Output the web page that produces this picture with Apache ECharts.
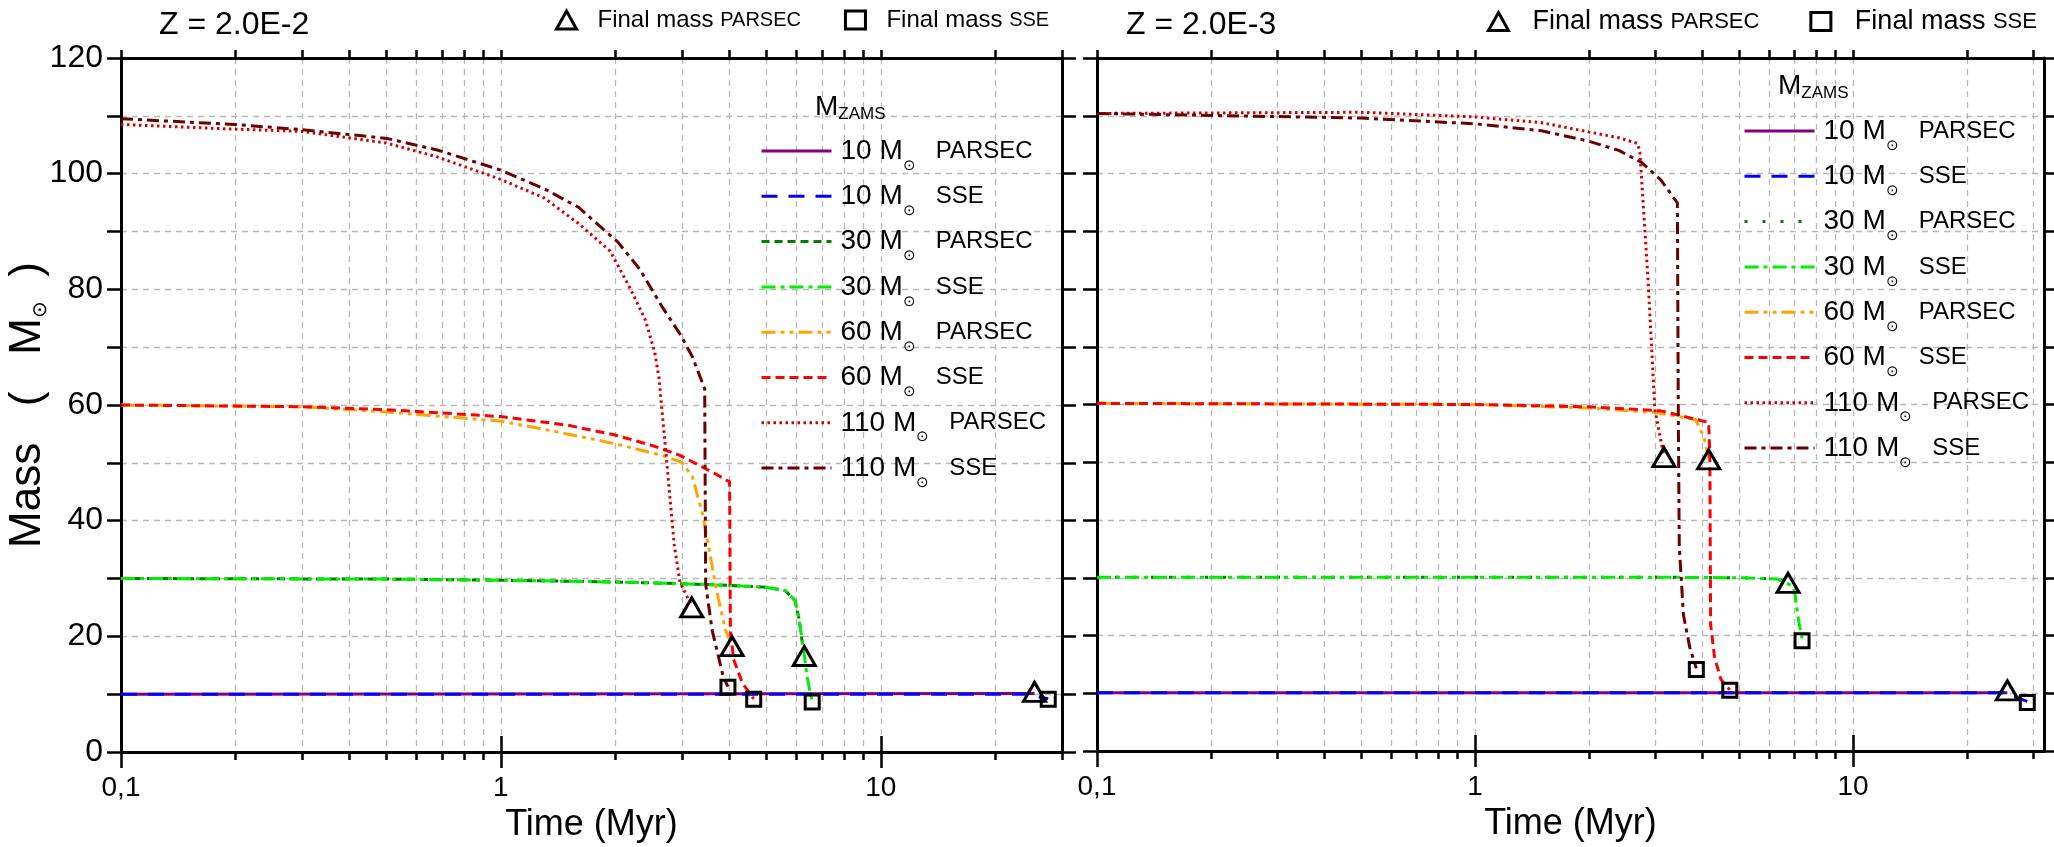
<!DOCTYPE html>
<html>
<head>
<meta charset="utf-8">
<script src="https://cdn.jsdelivr.net/npm/echarts@6/dist/echarts.min.js"></script>
<style>
  html, body { margin: 0; padding: 0; background: #fff; }
  #chart { width: 2054px; height: 847px; }
</style>
</head>
<body>
<div id="chart"></div>
<script>
// Mass evolution of massive stars: time in Myr, mass in solar masses.

// ---- Z = 2.0E-2 ----
const z1_10_parsec  = [[0.1, 10.0], [25.4, 10.1]];
const z1_10_sse     = [[0.1, 10.0], [24.0, 10.0], [27.6, 9.2]];
const z1_30_parsec  = [[0.1, 30.0], [0.5, 29.9], [1, 29.7], [2, 29.4], [3, 29.1], [4, 28.8], [5, 28.5], [5.6, 27.9], [5.95, 26.2], [6.1, 22.8], [6.25, 17.8]];
const z1_30_sse     = [[0.1, 30.0], [0.5, 29.9], [1, 29.7], [2, 29.4], [3, 29.1], [4, 28.8], [5, 28.5], [5.6, 27.9], [5.95, 26.2], [6.1, 22.8], [6.3, 16.5], [6.4, 13.0], [6.55, 9.6], [6.6, 8.8]];
const z1_60_parsec  = [[0.1, 60.0], [0.3, 59.7], [0.5, 58.8], [1, 57.2], [1.3, 55.8], [2, 53.3], [2.65, 51.3], [2.99, 50.1], [3.19, 47.7], [3.39, 41.3], [3.5, 36.6], [3.68, 28.5], [3.9, 21.1], [4.06, 18.5]];
const z1_60_sse     = [[0.1, 60.0], [0.3, 59.7], [0.5, 59.2], [1, 58.0], [1.5, 56.5], [2, 54.8], [2.5, 53.0], [2.96, 51.3], [3.67, 48.1], [4.0, 46.7], [4.02, 21.0], [4.1, 16.0], [4.33, 11.8], [4.63, 9.2]];
const z1_110_parsec = [[0.1, 108.5], [0.2, 107.7], [0.3, 107.3], [0.5, 105.3], [0.68, 102.9], [1, 99.0], [1.3, 95.8], [1.6, 91.4], [1.94, 86.6], [2.2, 79.9], [2.4, 74.7], [2.54, 69.2], [2.61, 64.5], [2.65, 59.6], [2.72, 51.7], [2.86, 35.8], [2.96, 29.4], [3.18, 25.2]];
const z1_110_sse    = [[0.1, 109.5], [0.2, 108.5], [0.3, 107.6], [0.5, 106.1], [0.68, 104.1], [1, 100.6], [1.3, 97.4], [1.6, 94.2], [2.03, 88.2], [2.32, 83.5], [2.65, 77.1], [2.96, 72.3], [3.19, 68.4], [3.44, 62.8], [3.46, 29.0], [3.6, 21.0], [3.85, 13.0], [3.96, 11.3]];
const z1_final_parsec = [[3.18, 25.0], [4.06, 18.3], [6.29, 16.6], [25.4, 10.4]];
const z1_final_sse    = [[3.96, 11.2], [4.63, 9.1], [6.6, 8.65], [27.6, 9.1]];

// ---- Z = 2.0E-3 ----
const z2_10_parsec  = [[0.1, 10.1], [25.6, 10.1]];
const z2_10_sse     = [[0.1, 10.1], [25.0, 10.1], [28.9, 8.6]];
const z2_30_parsec  = [[0.1, 30.1], [1, 30.1], [3, 30.1], [5, 30.0], [6.3, 29.8], [6.73, 29.3]];
const z2_30_sse     = [[0.1, 30.1], [1, 30.1], [3, 30.1], [5, 30.0], [6.3, 29.8], [6.9, 28.6], [7.0, 27.7], [7.18, 22.5], [7.33, 19.5]];
const z2_60_parsec  = [[0.1, 60.2], [1, 60.0], [2, 59.4], [3, 58.6], [3.83, 57.4], [4.03, 54.4], [4.15, 50.7]];
const z2_60_sse     = [[0.1, 60.2], [1, 60.0], [2, 59.6], [3.1, 58.9], [4.15, 56.9], [4.18, 51.3], [4.2, 21.9], [4.3, 16.3], [4.47, 12.4], [4.72, 10.6]];
const z2_110_parsec = [[0.1, 110.4], [0.5, 110.6], [1, 109.8], [1.5, 108.8], [2, 107.2], [2.4, 106.2], [2.69, 105.2], [2.73, 103.7], [2.87, 81.4], [2.99, 59.2], [3.12, 52.9], [3.16, 51.0]];
const z2_110_sse    = [[0.1, 110.4], [0.5, 109.6], [1, 108.6], [1.5, 107.4], [2, 105.6], [2.4, 104.0], [2.76, 101.9], [3.1, 98.9], [3.43, 94.9], [3.45, 57.6], [3.47, 35.4], [3.56, 23.5], [3.7, 17.9], [3.85, 14.3]];
const z2_final_parsec = [[3.16, 50.9], [4.15, 50.5], [6.73, 29.1], [25.6, 10.5]];
const z2_final_sse    = [[3.85, 14.1], [4.72, 10.5], [7.33, 19.1], [28.9, 8.4]];

// ---- axes ----
const xMinorTicks = [0.1, 0.2, 0.3, 0.4, 0.5, 0.6, 0.7, 0.8, 0.9, 1, 2, 3, 4, 5, 6, 7, 8, 9, 10, 20, 30];
const xMajorTicks = [0.1, 1, 10];
const yMin = 0, yMax = 120, yStep = 10;
const panelTitles = ['Z = 2.0E-2', 'Z = 2.0E-3'];
const xMax = [30, 32];

const FONT = "'Liberation Sans', Arial, sans-serif";

// line styles of each track (same order in both panels)
const tracks = [
  { mass: '10',  code: 'PARSEC', color: '#800080', dash: ['solid', 'solid'] },
  { mass: '10',  code: 'SSE',    color: '#0000ff', dash: [[16, 11], [16, 11]] },
  { mass: '30',  code: 'PARSEC', color: '#007f00', dash: [[8, 5], [3, 15]] },
  { mass: '30',  code: 'SSE',    color: '#00ee00', dash: [[14, 5, 4, 5], [14, 5, 4, 5]] },
  { mass: '60',  code: 'PARSEC', color: '#ffa500', dash: [[14, 5, 4, 5, 4, 5], [14, 5, 4, 5, 4, 5]] },
  { mass: '60',  code: 'SSE',    color: '#ff0000', dash: [[9, 5], [9, 5]] },
  { mass: '110', code: 'PARSEC', color: '#d40000', dash: [[2.5, 3.5], [2.5, 3.5]] },
  { mass: '110', code: 'SSE',    color: '#6a0000', dash: [[12, 5, 4, 5], [12, 5, 4, 5]] }
];
const trackData = [
  [z1_10_parsec, z1_10_sse, z1_30_parsec, z1_30_sse, z1_60_parsec, z1_60_sse, z1_110_parsec, z1_110_sse],
  [z2_10_parsec, z2_10_sse, z2_30_parsec, z2_30_sse, z2_60_parsec, z2_60_sse, z2_110_parsec, z2_110_sse]
];
const finals = [
  [z1_final_parsec, z1_final_sse],
  [z2_final_parsec, z2_final_sse]
];

const grids = [
  { left: 121, top: 58, width: 941, height: 694, containLabel: false, outerBoundsMode: 'none' },
  { left: 1097, top: 58, width: 947, height: 693, containLabel: false, outerBoundsMode: 'none' }
];

// per-panel placement of the annotation blocks
const trackLegendPos = [{ left: 760, top: 137 }, { left: 1743, top: 117 }];
const markerLegendPos = [
  { left: 555, gap: 43, pad: 16, big: 24, small: 20 },
  { left: 1487, gap: 50, pad: 19, big: 27, small: 22 }
];
const titlePos = [{ left: 154, top: 4 }, { left: 1121, top: 4 }];
const zamsPos = [{ left: 810, top: 88 }, { left: 1773, top: 67 }];

const axisLineStyle = { color: '#000', width: 3 };
const tickLineStyle = { color: '#000', width: 2.5 };
const gridLineStyle = { color: '#b8b8b8', width: 1.3, type: [6, 5] };

const xAxes = [];
const yAxes = [];
const series = [];
const legends = [];
const titles = [];

function xLabel(v) {
  const r = Math.round(v * 10) / 10;
  return r < 1 ? String(r).replace('.', ',') : String(Math.round(v));
}

[0, 1].forEach(function (gi) {
  const base = { type: 'log', logBase: 10, gridIndex: gi, min: 0.1, max: xMax[gi] };
  // bottom axis: line, small ticks, grid lines and labels
  xAxes.push(Object.assign({}, base, {
    position: 'bottom',
    axisLine: { show: true, onZero: false, lineStyle: axisLineStyle },
    axisTick: { show: true, inside: false, length: 8, lineStyle: tickLineStyle, customValues: xMinorTicks },
    axisLabel: { show: true, customValues: xMajorTicks, formatter: xLabel, margin: 22, fontSize: 28, color: '#000', fontFamily: FONT },
    splitLine: { show: true, lineStyle: gridLineStyle },
    name: 'Time (Myr)', nameLocation: 'middle', nameGap: 52,
    nameTextStyle: { fontSize: 36, color: '#000', fontFamily: FONT }
  }));
  // bottom axis: long decade ticks
  xAxes.push(Object.assign({}, base, {
    position: 'bottom',
    axisLine: { show: false },
    axisTick: { show: true, inside: false, length: 16, lineStyle: tickLineStyle, customValues: xMajorTicks },
    axisLabel: { show: false }, splitLine: { show: false }
  }));
  // top axis: small ticks
  xAxes.push(Object.assign({}, base, {
    position: 'top',
    axisLine: { show: true, onZero: false, lineStyle: axisLineStyle },
    axisTick: { show: true, inside: false, length: 8, lineStyle: tickLineStyle, customValues: xMinorTicks },
    axisLabel: { show: false }, splitLine: { show: false }
  }));
  // top axis: long decade ticks
  xAxes.push(Object.assign({}, base, {
    position: 'top',
    axisLine: { show: false },
    axisTick: { show: true, inside: false, length: 16, lineStyle: tickLineStyle, customValues: xMajorTicks },
    axisLabel: { show: false }, splitLine: { show: false }
  }));

  yAxes.push({
    type: 'value', gridIndex: gi, min: yMin, max: yMax, interval: yStep, position: 'left',
    axisLine: { show: true, onZero: false, lineStyle: axisLineStyle },
    axisTick: { show: true, inside: false, length: 14, lineStyle: tickLineStyle },
    axisLabel: {
      show: gi === 0, margin: 18, fontSize: 32, color: '#000', fontFamily: FONT,
      formatter: function (v) { return v % 20 === 0 ? String(v) : ''; }
    },
    splitLine: { show: true, lineStyle: gridLineStyle },
    name: gi === 0 ? '{a|Mass   (   M}{b|⊙}{a|  )}' : '',
    nameLocation: 'middle', nameRotate: 90, nameGap: 71, nameMoveOverlap: false,
    nameTextStyle: {
      color: '#000', fontFamily: FONT,
      rich: {
        a: { fontSize: 44, fontFamily: FONT, color: '#000', lineHeight: 44, verticalAlign: 'middle' },
        b: { fontSize: 20, fontFamily: FONT, color: '#000', lineHeight: 20, verticalAlign: 'bottom' }
      }
    }
  });
  yAxes.push({
    type: 'value', gridIndex: gi, min: yMin, max: yMax, interval: yStep, position: 'right',
    axisLine: { show: true, onZero: false, lineStyle: axisLineStyle },
    axisTick: { show: true, inside: false, length: 14, lineStyle: tickLineStyle },
    axisLabel: { show: false }, splitLine: { show: false }
  });

  const names = [];
  tracks.forEach(function (t, i) {
    const name = 'z' + (gi + 1) + '|' + t.mass + '|' + t.code;
    names.push(name);
    series.push({
      name: name, type: 'line', xAxisIndex: 4 * gi, yAxisIndex: 2 * gi,
      data: trackData[gi][i], symbol: 'none', showSymbol: false, smooth: false,
      lineStyle: { color: t.color, width: 3, type: t.dash[gi], cap: 'butt' },
      itemStyle: { color: t.color },
      z: 3 + i
    });
  });

  const markerStyle = { color: 'rgba(255,255,255,0)', borderColor: '#000', borderWidth: 3, opacity: 1 };
  series.push({
    name: 'Final mass PARSEC', type: 'scatter', xAxisIndex: 4 * gi, yAxisIndex: 2 * gi,
    data: finals[gi][0], symbol: 'triangle', symbolSize: [22, 19],
    itemStyle: markerStyle, z: 20
  });
  series.push({
    name: 'Final mass SSE', type: 'scatter', xAxisIndex: 4 * gi, yAxisIndex: 2 * gi,
    data: finals[gi][1], symbol: 'rect', symbolSize: 14,
    itemStyle: markerStyle, z: 20
  });

  // M_ZAMS track legend
  legends.push({
    orient: 'vertical', left: trackLegendPos[gi].left, top: trackLegendPos[gi].top,
    padding: 0, itemWidth: 70, itemHeight: 20, itemGap: 9.3,
    data: names, selectedMode: false,
    itemStyle: { color: 'rgba(0,0,0,0)', borderColor: 'rgba(0,0,0,0)', borderWidth: 0 },
    lineStyle: { width: 3 },
    formatter: function (n) {
      const p = n.split('|');
      return '{a|' + p[1] + ' M}{b|⊙}{c|' + p[2] + '}';
    },
    textStyle: {
      color: '#000', fontFamily: FONT,
      rich: {
        a: { fontSize: 28, fontFamily: FONT, color: '#000', lineHeight: 44, verticalAlign: 'middle', padding: [0, 0, 0, 4] },
        b: { fontSize: 15, fontFamily: FONT, color: '#000', lineHeight: 15, verticalAlign: 'bottom' },
        c: { fontSize: 24, fontFamily: FONT, color: '#000', lineHeight: 44, verticalAlign: 'middle', padding: [0, 0, 0, 20] }
      }
    }
  });

  // final-mass marker legend along the top
  const mp = markerLegendPos[gi];
  legends.push({
    orient: 'horizontal', left: mp.left, top: 8,
    padding: 0, itemWidth: 20, itemHeight: 18, itemGap: mp.gap, selectedMode: false,
    itemStyle: { color: 'rgba(255,255,255,0)', borderColor: '#000', borderWidth: 3, opacity: 1 },
    data: [{ name: 'Final mass PARSEC', icon: 'triangle' }, { name: 'Final mass SSE', icon: 'rect' }],
    formatter: function (n) {
      return n === 'Final mass PARSEC' ? '{a|Final mass }{b|PARSEC}' : '{a|Final mass }{b|SSE}';
    },
    textStyle: {
      color: '#000', fontFamily: FONT,
      rich: {
        a: { fontSize: mp.big, fontFamily: FONT, color: '#000', padding: [0, 0, 0, mp.pad] },
        b: { fontSize: mp.small, fontFamily: FONT, color: '#000' }
      }
    }
  });

  titles.push({
    text: panelTitles[gi], left: titlePos[gi].left, top: titlePos[gi].top,
    textStyle: { fontSize: 32, fontWeight: 'normal', color: '#000', fontFamily: FONT }
  });
  titles.push({
    text: '{m|M}{z|ZAMS}', left: zamsPos[gi].left, top: zamsPos[gi].top,
    textStyle: {
      fontFamily: FONT, color: '#000', fontWeight: 'normal',
      rich: {
        m: { fontSize: 28, fontFamily: FONT, fontWeight: 'normal', color: '#000', lineHeight: 30, verticalAlign: 'top' },
        z: { fontSize: 17, fontFamily: FONT, fontWeight: 'normal', color: '#000', lineHeight: 17, verticalAlign: 'bottom' }
      }
    }
  });
});

const chart = echarts.init(document.getElementById('chart'), null, { renderer: 'canvas' });
chart.setOption({
  backgroundColor: '#fff',
  animation: false,
  title: titles,
  legend: legends,
  grid: grids,
  xAxis: xAxes,
  yAxis: yAxes,
  series: series
});
</script>
</body>
</html>
